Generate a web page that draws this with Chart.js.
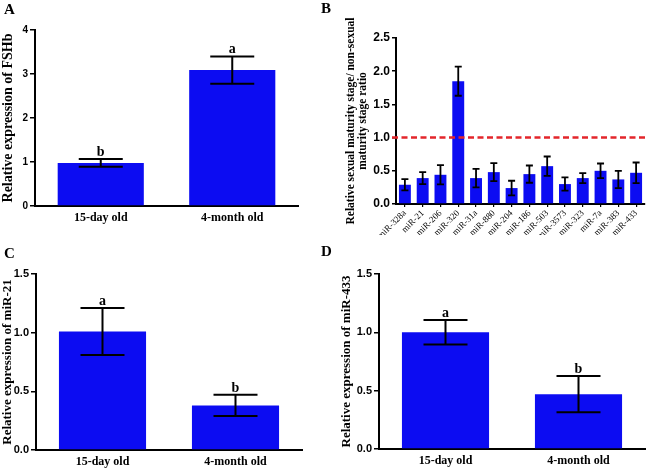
<!DOCTYPE html>
<html>
<head>
<meta charset="utf-8">
<script src="https://cdn.jsdelivr.net/npm/chart.js@4"></script>
<style>
  body { margin: 0; background: #fff; }
  #page { position: relative; width: 648px; height: 470px; overflow: hidden; }
  .panel { position: absolute; }
  .tag { position: absolute; font: bold 15px 'Liberation Serif', serif; color: #000; }
</style>
</head>
<body>
<div id="page">
  <div class="panel" style="left:0;top:0"><canvas id="chart-a" width="320" height="235"></canvas></div>
  <div class="panel" style="left:320px;top:0"><canvas id="chart-b" width="328" height="235"></canvas></div>
  <div class="panel" style="left:0;top:235px"><canvas id="chart-c" width="320" height="235"></canvas></div>
  <div class="panel" style="left:320px;top:235px"><canvas id="chart-d" width="328" height="235"></canvas></div>
  <div class="tag" style="left:4px;top:1px">A</div>
  <div class="tag" style="left:321px;top:0px">B</div>
  <div class="tag" style="left:4px;top:245px">C</div>
  <div class="tag" style="left:321px;top:243px">D</div>
</div>
<script>
// values
const ageGroups = ['15-day old', '4-month old'];

const fshbMeans = [0.98, 3.09];
const fshbErrors = [0.09, 0.31];
const fshbLetters = ['b', 'a'];

const mirNames = ['miR-328a', 'miR-21', 'miR-206', 'miR-320', 'miR-31a', 'miR-880', 'miR-204',
  'miR-186', 'miR-503', 'miR-3573', 'miR-323', 'miR-7a', 'miR-383', 'miR-433'];
const mirRatios = [0.29, 0.39, 0.44, 1.85, 0.39, 0.48, 0.24, 0.45, 0.57, 0.30, 0.39, 0.50, 0.37, 0.47];
const mirErrors = [0.085, 0.09, 0.145, 0.22, 0.14, 0.135, 0.11, 0.13, 0.145, 0.10, 0.075, 0.11, 0.13, 0.155];
const ratioThreshold = 1.0;

const mir21Means = [1.01, 0.38];
const mir21Errors = [0.2, 0.09];
const mir21Letters = ['a', 'b'];

const mir433Means = [1.0, 0.47];
const mir433Errors = [0.105, 0.155];
const mir433Letters = ['a', 'b'];

const BLUE = '#0c0cf2';
const serif = 'Liberation Serif';
const sans = 'Liberation Sans';

Chart.defaults.font.family = sans;
Chart.defaults.color = '#000';
Chart.defaults.animation = false;

const errorBarPlugin = {
  id: 'errorBars',
  afterDatasetsDraw(chart, args, opts) {
    const { ctx, scales: { y } } = chart;
    const meta = chart.getDatasetMeta(0);
    const values = chart.data.datasets[0].data;
    ctx.save();
    ctx.strokeStyle = '#000';
    ctx.fillStyle = '#000';
    ctx.lineWidth = opts.lineWidth;
    ctx.font = 'bold 14px ' + serif;
    ctx.textAlign = 'center';
    ctx.textBaseline = 'alphabetic';
    meta.data.forEach((bar, i) => {
      const cx = bar.x;
      const half = opts.capWidth / 2;
      const top = y.getPixelForValue(values[i] + opts.errors[i]);
      const bottom = y.getPixelForValue(values[i] - opts.errors[i]);
      ctx.beginPath();
      ctx.moveTo(cx, top);
      ctx.lineTo(cx, bottom);
      ctx.moveTo(cx - half, top);
      ctx.lineTo(cx + half, top);
      ctx.moveTo(cx - half, bottom);
      ctx.lineTo(cx + half, bottom);
      ctx.stroke();
      if (opts.letters) {
        ctx.fillText(opts.letters[i], cx, top - 3);
      }
    });
    ctx.restore();
  },
};

const thresholdPlugin = {
  id: 'threshold',
  afterDatasetsDraw(chart, args, opts) {
    if (opts.value === undefined) return;
    const { ctx, chartArea, scales: { y } } = chart;
    const py = y.getPixelForValue(opts.value);
    ctx.save();
    ctx.strokeStyle = '#e3262b';
    ctx.lineWidth = 2.5;
    ctx.setLineDash([6, 3.5]);
    ctx.beginPath();
    ctx.moveTo(chartArea.left - 4, py);
    ctx.lineTo(chartArea.right, py);
    ctx.stroke();
    ctx.restore();
  },
};

const groupChart = (id, means, errors, letters, yMax, step, yTitle, layout, tickSize, titleSize) => {
  const data = {
    labels: ageGroups,
    datasets: [
      {
        data: means,
        backgroundColor: BLUE,
        borderWidth: 0,
        categoryPercentage: 1,
        barPercentage: 0.655,
      },
    ],
  };

  const config = {
    type: 'bar',
    data: data,
    plugins: [errorBarPlugin],
    options: {
      responsive: false,
      layout: { padding: layout.padding },
      plugins: {
        legend: { display: false },
        tooltip: { enabled: false },
        errorBars: { errors: errors, letters: letters, capWidth: 44, lineWidth: 2 },
      },
      scales: {
        x: {
          grid: { display: false, drawTicks: false },
          border: { color: '#000', width: 2 },
          ticks: { padding: 5, color: '#000', font: { family: serif, weight: 'bold', size: 12 } },
          afterFit(s) { s.height = layout.xHeight; },
        },
        y: {
          min: 0,
          max: yMax,
          ticks: {
            stepSize: step,
            padding: 2,
            color: '#000',
            font: { family: sans, weight: 'bold', size: tickSize },
            callback: (v) => (step < 1 ? v.toFixed(1) : String(v)),
          },
          grid: { drawOnChartArea: false, tickLength: 5, color: '#000', lineWidth: 1.5 },
          border: { color: '#000', width: 2 },
          title: {
            display: true,
            text: yTitle,
            color: '#000',
            padding: 0,
            font: { family: serif, weight: 'bold', size: titleSize },
          },
          afterFit(s) { s.width = layout.yWidth; },
        },
      },
    },
  };

  return new Chart(document.getElementById(id), config);
};

const initChartB = () => {
  const data = {
    labels: mirNames,
    datasets: [
      {
        data: mirRatios,
        backgroundColor: BLUE,
        borderWidth: 0,
        categoryPercentage: 1,
        barPercentage: 0.67,
      },
    ],
  };

  const config = {
    type: 'bar',
    data: data,
    plugins: [thresholdPlugin, errorBarPlugin],
    options: {
      responsive: false,
      layout: { padding: { left: 25, top: 38, right: 3, bottom: 0 } },
      plugins: {
        legend: { display: false },
        tooltip: { enabled: false },
        threshold: { value: ratioThreshold },
        errorBars: { errors: mirErrors, capWidth: 7, lineWidth: 1.8 },
      },
      scales: {
        x: {
          grid: { drawOnChartArea: false, offset: false, tickLength: 3, color: '#000', lineWidth: 1.2 },
          border: { color: '#000', width: 2 },
          ticks: {
            autoSkip: false,
            minRotation: 45,
            maxRotation: 45,
            padding: 1,
            color: '#000',
            font: { family: serif, size: 9 },
          },
          afterFit(s) { s.height = 31; },
        },
        y: {
          min: 0,
          max: 2.5,
          ticks: {
            stepSize: 0.5,
            padding: 2,
            color: '#000',
            font: { family: sans, weight: 'bold', size: 12 },
            callback: (v) => v.toFixed(1),
          },
          grid: { drawOnChartArea: false, tickLength: 4, color: '#000', lineWidth: 1.5 },
          border: { color: '#000', width: 2 },
          title: {
            display: true,
            text: ['Relative sexual maturity stage/ non-sexual', 'maturity stage ratio'],
            color: '#000',
            padding: 0,
            font: { family: serif, weight: 'bold', size: 11.5, lineHeight: 1.05 },
          },
          afterFit(s) { s.width = 51; },
        },
      },
    },
  };

  return new Chart(document.getElementById('chart-b'), config);
};

const [chartA, chartB, chartC, chartD] = [
  groupChart('chart-a', fshbMeans, fshbErrors, fshbLetters, 4, 1, 'Relative expression of FSHb',
    { padding: { left: 0, top: 30, right: 22, bottom: 0 }, yWidth: 35, xHeight: 29 }, 10, 14),
  initChartB(),
  groupChart('chart-c', mir21Means, mir21Errors, mir21Letters, 1.5, 0.5, 'Relative expression of miR-21',
    { padding: { left: 0, top: 39, right: 18, bottom: 0 }, yWidth: 36, xHeight: 20 }, 11, 13),
  groupChart('chart-d', mir433Means, mir433Errors, mir433Letters, 1.5, 0.5, 'Relative expression of miR-433',
    { padding: { left: 19, top: 39, right: 3, bottom: 0 }, yWidth: 40, xHeight: 21 }, 11, 13),
];
</script>
</body>
</html>
